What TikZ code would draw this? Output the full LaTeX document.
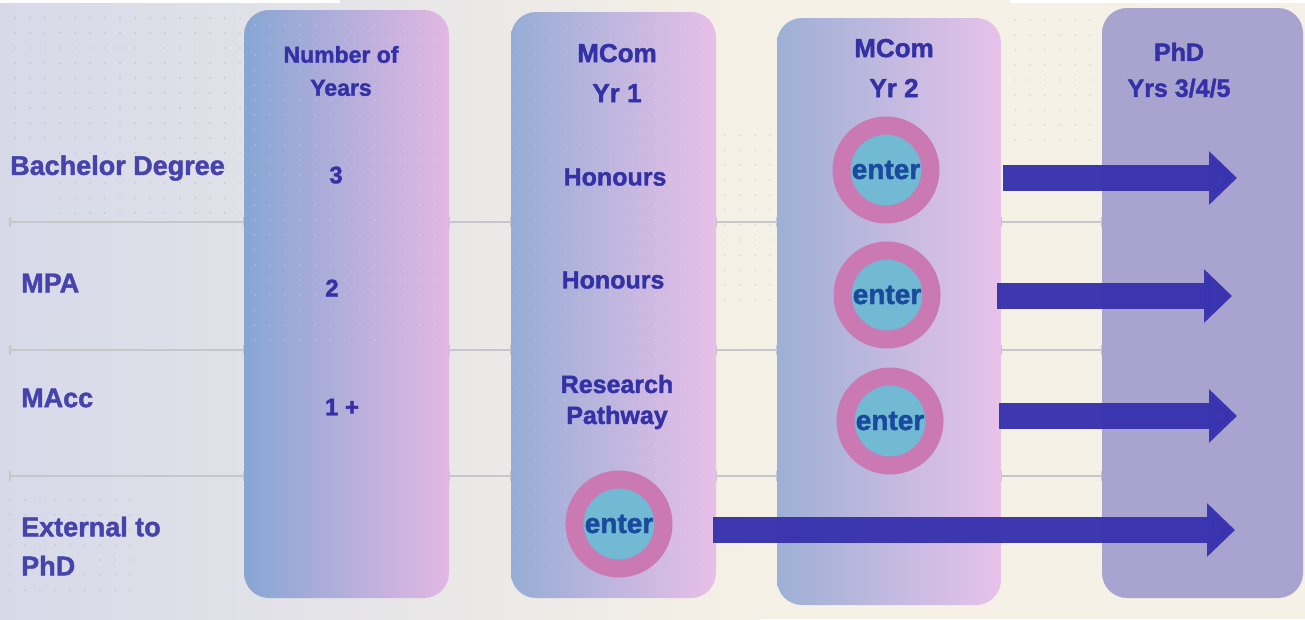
\documentclass[tikz,border=0pt]{standalone}
\usepackage{fontspec}
\setmainfont{Liberation Sans}[BoldFeatures={FakeBold=1.6}]
\usetikzlibrary{arrows.meta}
\definecolor{bgL}{HTML}{D7D9E9}
\definecolor{bgR}{HTML}{F6F1E6}
\definecolor{colL}{HTML}{87A6D3}
\definecolor{colR}{HTML}{E3B7E3}
\definecolor{col2L}{HTML}{96ADD5}
\definecolor{col2R}{HTML}{E8BFE8}
\definecolor{col3L}{HTML}{9DB0D5}
\definecolor{col3R}{HTML}{E7C2EA}
\definecolor{phd}{HTML}{A9A3CF}
\definecolor{txt}{HTML}{3431A6}
\definecolor{rowtxt}{HTML}{4642AE}
\definecolor{ring}{HTML}{CB79B3}
\definecolor{core}{HTML}{72B9D4}
\definecolor{entertxt}{HTML}{1A4A9C}
\definecolor{arrowc}{HTML}{3833AE}
\definecolor{gridc}{HTML}{C6C6CC}
\definecolor{dotc}{HTML}{A8A8BC}
\tikzset{
  colbox/.style={rounded corners=25pt, inner sep=0pt, outer sep=0pt},
  rowlabel/.style={anchor=west, text=rowtxt, font=\bfseries\fontsize{27}{39}\selectfont, align=left, inner sep=0pt},
  head/.style={text=txt, font=\bfseries\fontsize{26}{40}\selectfont, align=center, inner sep=0pt},
  celltext/.style={text=txt, font=\bfseries\fontsize{25}{31}\selectfont, align=center, inner sep=0pt},
  enternode/.style={circle, draw=ring, line width=18pt, fill=core, minimum size=89pt, inner sep=0pt, text=entertxt, font=\bfseries\fontsize{28}{32}\selectfont},
  bigarrow/.style={draw=arrowc, line width=26pt, opacity=.97, -{Triangle[length=28pt,width=52pt]}},
  gridline/.style={draw=gridc, line width=1.5pt},
}
\begin{document}
\begin{tikzpicture}[x=1pt,y=-1pt]
\useasboundingbox (0,0) rectangle (1305,619);
% background
\shade[left color=bgL, right color=bgR] (0,0) rectangle (760,619);
\fill[bgR] (759,0) rectangle (1305,619);
\fill[white] (0,0) rectangle (340,3);
\fill[white] (1010,0) rectangle (1305,3);
% grid lines
\foreach \y in {222,350,476}{
  \draw[gridline] (10,\y) -- (1102,\y);
  \foreach \x in {10,244,449,511,716,777,1001,1102}
    \draw[gridline] (\x,\y-5) -- (\x,\y+5);
}
% dots in background
\foreach \x in {15,30,...,435} \foreach \y in {18,33,...,138}
  \fill[dotc, opacity=.35] (\x,\y) circle (1.1pt);
\foreach \x in {60,75,...,240} \foreach \y in {153,168,...,213}
  \fill[dotc, opacity=.3] (\x,\y) circle (1.1pt);
\foreach \x in {10,25,...,130} \foreach \y in {500,515,...,590}
  \fill[dotc, opacity=.3] (\x,\y) circle (1.1pt);
\foreach \x in {725,740,...,770} \foreach \y in {135,150,...,300}
  \fill[dotc, opacity=.25] (\x,\y) circle (1.1pt);
\foreach \x in {1015,1030,...,1095} \foreach \y in {20,35,...,140}
  \fill[dotc, opacity=.25] (\x,\y) circle (1.1pt);
% columns
\node[colbox, left color=colL, right color=colR, minimum width=205pt, minimum height=588pt] (c1) at (346.5,304) {};
\node[colbox, left color=col2L, right color=col2R, minimum width=205pt, minimum height=586pt] (c2) at (613.5,305) {};
\node[colbox, left color=col3L, right color=col3R, minimum width=224pt, minimum height=587pt] (c3) at (889,311.5) {};
\node[colbox, fill=phd, minimum width=201pt, minimum height=590pt] (c4) at (1202.5,303) {};
% dots over columns
\foreach \x in {255,270,...,440} \foreach \y in {25,40,...,340}
  \fill[white, opacity=.18] (\x,\y) circle (1.1pt);
\foreach \x in {520,535,...,710} \foreach \y in {25,40,...,565}
  \fill[white, opacity=.15] (\x,\y) circle (1.1pt);
\foreach \x in {1110,1125,...,1295} \foreach \y in {110,125,...,235}
  \fill[dotc, opacity=.3] (\x,\y) circle (1.1pt);
% row labels
\node[rowlabel] (r1) at (10,168) {Bachelor Degree};
\node[rowlabel] (r2) at (21,283) {MPA};
\node[rowlabel] (r3) at (21,398) {MAcc};
\node[rowlabel] (r4) at (21,546) {External to\\PhD};
% column 1
\node[text=txt, font=\bfseries\fontsize{23}{33}\selectfont, align=center, inner sep=0pt] (h1) at (341,71) {Number of\\Years};
\node[celltext, font=\bfseries\fontsize{24}{30}\selectfont] (n1) at (336,175) {3};
\node[celltext, font=\bfseries\fontsize{24}{30}\selectfont] (n2) at (332,288) {2};
\node[celltext, font=\bfseries\fontsize{24}{30}\selectfont] (n3) at (342,407) {1 +};
% column 2
\node[head] (h2) at (617,73) {MCom\\Yr 1};
\node[celltext] (t1) at (615,177) {Honours};
\node[celltext] (t2) at (613,280) {Honours};
\node[celltext] (t3) at (617,402) {Research\\Pathway};
\node[enternode] (e4) at (619,524) {enter};
% column 3
\node[head, font=\bfseries\fontsize{26}{40}\selectfont] (h3) at (894,68) {MCom\\Yr 2};
\node[enternode] (e1) at (886,170) {enter};
\node[enternode] (e2) at (887,295) {enter};
\node[enternode] (e3) at (890,421) {enter};
% PhD column
\node[head, font=\bfseries\fontsize{25}{36}\selectfont] (h4) at (1179,70) {PhD\\Yrs 3/4/5};
% arrows
\coordinate (a1s) at (1003,178); \coordinate (a1e) at (1237,178);
\coordinate (a2s) at (997,296);  \coordinate (a2e) at (1232,296);
\coordinate (a3s) at (999,416);  \coordinate (a3e) at (1237,416);
\coordinate (a4s) at (713,530);  \coordinate (a4e) at (1235,530);
\draw[bigarrow] (a1s) -- (a1e);
\draw[bigarrow] (a2s) -- (a2e);
\draw[bigarrow] (a3s) -- (a3e);
\draw[bigarrow] (a4s) -- (a4e);
\end{tikzpicture}
\end{document}
